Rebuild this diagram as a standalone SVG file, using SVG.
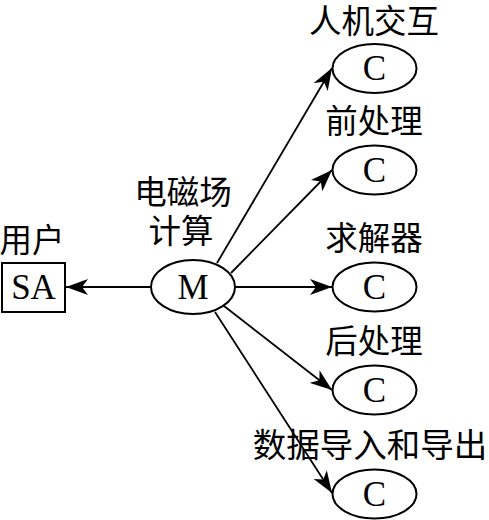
<svg xmlns="http://www.w3.org/2000/svg" width="489" height="520" viewBox="0 0 489 520">
<defs>
<style>
.shape{fill:#fff;stroke:#000;stroke-width:2}
.lat{font-family:"Liberation Serif","Times New Roman",serif;font-size:35px;fill:#000;text-anchor:middle}
.cjk{font-family:"Noto Sans CJK SC",sans-serif;font-size:32.5px;fill:#000;text-anchor:middle}
.conn{stroke:#000;stroke-width:1.8;fill:none;marker-end:url(#ah)}
</style>
<marker id="ah" viewBox="0 0 22 16" refX="22" refY="8" markerWidth="22" markerHeight="16" markerUnits="userSpaceOnUse" orient="auto">
<path d="M0,0 L22,8 L0,16 L6,8 Z" fill="#000"/>
</marker>
</defs>
<g id="connectors">
<line class="conn" x1="151" y1="287" x2="66" y2="287"/>
<line class="conn" x1="217" y1="263" x2="332" y2="68"/>
<line class="conn" x1="231" y1="273" x2="332" y2="170"/>
<line class="conn" x1="236" y1="287" x2="332" y2="287"/>
<line class="conn" x1="224" y1="306" x2="332" y2="390"/>
<line class="conn" x1="215" y1="312" x2="332" y2="493"/>
</g>
<g id="user">
<text class="cjk" x="32" y="252">用户</text>
<rect class="shape" x="2" y="263" width="63" height="49"/>
<text class="lat" x="33.5" y="299">SA</text>
</g>
<g id="em">
<text class="cjk" x="183" y="204">电磁场</text>
<text class="cjk" x="181" y="243">计算</text>
<ellipse class="shape" cx="193" cy="287" rx="42" ry="27"/>
<text class="lat" x="193" y="299">M</text>
</g>
<g id="c1">
<text class="cjk" x="374" y="33">人机交互</text>
<ellipse class="shape" cx="374.5" cy="68.5" rx="42" ry="24.5"/>
<text class="lat" x="374.5" y="80">C</text>
</g>
<g id="c2">
<text class="cjk" x="374" y="133">前处理</text>
<ellipse class="shape" cx="374.5" cy="170" rx="42" ry="24.5"/>
<text class="lat" x="374.5" y="181.5">C</text>
</g>
<g id="c3">
<text class="cjk" x="374" y="250">求解器</text>
<ellipse class="shape" cx="374.5" cy="287" rx="42" ry="24.5"/>
<text class="lat" x="374.5" y="298.5">C</text>
</g>
<g id="c4">
<text class="cjk" x="374" y="353">后处理</text>
<ellipse class="shape" cx="374.5" cy="390" rx="42" ry="24.5"/>
<text class="lat" x="374.5" y="401.5">C</text>
</g>
<g id="c5">
<text class="cjk" x="370" y="457" style="font-size:33.5px">数据导入和导出</text>
<ellipse class="shape" cx="374.5" cy="494" rx="42" ry="24.5"/>
<text class="lat" x="374.5" y="505.5">C</text>
</g>
</svg>
